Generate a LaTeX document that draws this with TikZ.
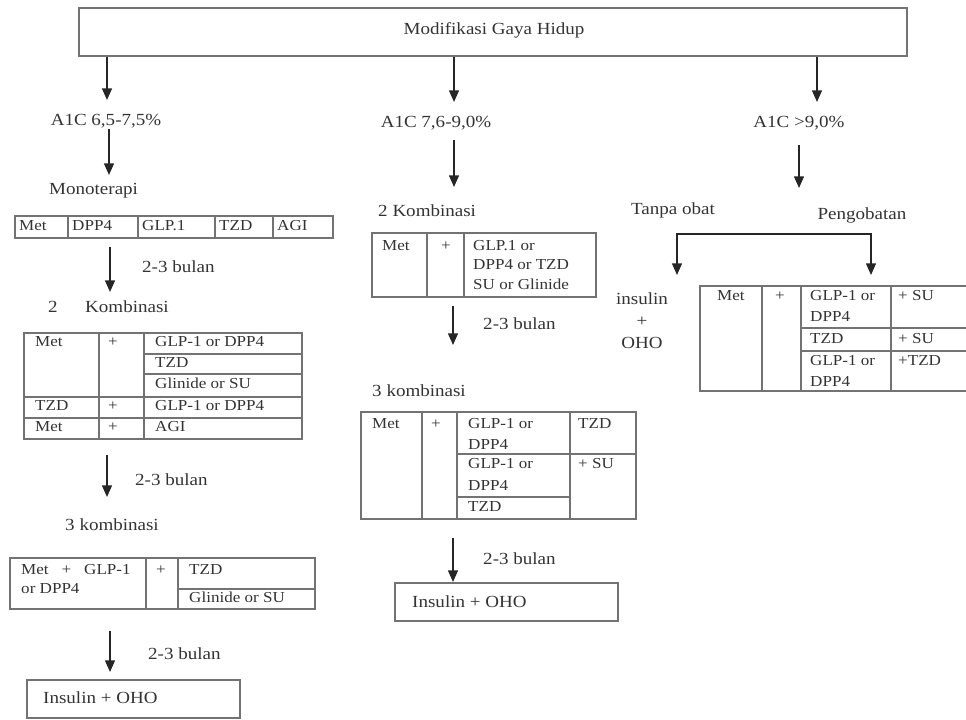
\documentclass[tikz,border=0pt]{standalone}
\usepackage{fontspec}
\setmainfont{Liberation Serif}[FakeStretch=1.12]
\usetikzlibrary{arrows.meta, fit, calc}

\begin{document}
\begin{tikzpicture}[
  x=0.03cm, y=-0.03cm,
  >={Triangle[length=10pt, width=8.5pt]},
  every node/.style={text=black!80},
  lbl/.style={font=\fontsize{14.5}{17}\selectfont, inner sep=0pt, text height=10pt, text depth=3pt},
  cell/.style={font=\fontsize{13}{15}\selectfont, inner sep=0pt, anchor=west, text height=9pt, text depth=3.5pt},
  tbl/.style={draw=black!55, line width=0.9pt, inner sep=0pt},
  rule/.style={draw=black!55, line width=0.9pt},
  arr/.style={->, line width=1.3pt, black!85},
]
  \useasboundingbox (0,0) rectangle (966,720);

  % top box and the three A1C ranges
  \node[tbl, fit={(79,8) (907,56)}] (top) {};
  \node[lbl] (gaya) at (494,30) {Modifikasi Gaya Hidup};
  \node[lbl] (a1) at (106,121) {A1C 6,5-7,5\%};
  \node[lbl] (a2) at (436,123) {A1C 7,6-9,0\%};
  \node[lbl] (a3) at (799,123) {A1C >9,0\%};
  \coordinate (t1) at (107,100);
  \coordinate (t2) at (454,102);
  \coordinate (t3) at (817,102);
  \foreach \t in {t1,t2,t3} \draw[arr] (top.south -| \t) -- (\t);

  % left column
  \node[lbl, anchor=west] (mono) at (49,190) {Monoterapi};
  \coordinate (u1) at (109,175);
  \draw[arr] (a1.south -| u1) -- (u1);
  \node[tbl, fit={(15,216) (333,238)}] (tm) {};
  \foreach \x in {68,138,215,273} \draw[rule] (\x,216) -- (\x,238);
  \foreach \x/\t [count=\i] in {19/Met, 72/DPP4, 142/GLP.1, 219/TZD, 277/AGI}
    \node[cell] (tm\i) at (\x,227) {\t};
  \coordinate (v1) at (110,292);
  \draw[arr, shorten <=7pt] (tm.south -| v1) -- (v1);
  \node[lbl, anchor=west] (b1) at (142,268) {2-3 bulan};
  \node[lbl] (dua) at (53,308) {2};
  \node[lbl, anchor=west] (k2) at (85,308) {Kombinasi};

  \node[tbl, fit={(24,333) (302,439)}] (tk2) {};
  \foreach \x in {99,144} \draw[rule] (\x,333) -- (\x,439);
  \foreach \y in {354,374} \draw[rule] (144,\y) -- (302,\y);
  \foreach \y in {397,418} \draw[rule] (24,\y) -- (302,\y);
  \foreach \x/\y/\t [count=\i] in {35/343/Met, 108/343/+, 155/343/GLP-1 or DPP4,
      155/364/TZD, 155/385/Glinide or SU, 35/407/TZD, 108/407/+,
      155/407/GLP-1 or DPP4, 35/428/Met, 108/428/+, 155/428/AGI}
    \node[cell] (tk2\i) at (\x,\y) {\t};
  \coordinate (v2) at (107,497);
  \draw[arr, shorten <=13pt] (tk2.south -| v2) -- (v2);
  \node[lbl, anchor=west] (b2) at (135,481) {2-3 bulan};
  \node[lbl, anchor=west] (k3) at (65,526) {3 kombinasi};

  \node[tbl, fit={(10,558) (315,609)}] (tk3) {};
  \foreach \x in {146,178} \draw[rule] (\x,558) -- (\x,609);
  \draw[rule] (178,589) -- (315,589);
  \node[cell] (tk31) at (21,571) {Met\hspace{0.85em}+\hspace{0.85em}GLP-1};
  \node[cell] (tk32) at (21,590) {or DPP4};
  \node[cell] (tk33) at (156,571) {+};
  \node[cell] (tk34) at (189,571) {TZD};
  \node[cell] (tk35) at (189,599) {Glinide or SU};
  \coordinate (v3) at (110,672);
  \draw[arr, shorten <=18pt] (tk3.south -| v3) -- (v3);
  \node[lbl, anchor=west] (b3) at (148,655) {2-3 bulan};
  \node[tbl, fit={(27,680) (240,718)}] (fin) {};
  \node[lbl, anchor=west] (fint) at (43,699) {Insulin + OHO};

  % middle column
  \coordinate (u2) at (454,187);
  \draw[arr, shorten <=8pt] (a2.south -| u2) -- (u2);
  \node[lbl, anchor=west] (mk2) at (378,212) {2 Kombinasi};
  \node[tbl, fit={(372,233) (596,297)}] (tmk2) {};
  \foreach \x in {427,464} \draw[rule] (\x,233) -- (\x,297);
  \foreach \x/\y/\t [count=\i] in {382/247/Met, 441/247/+, 473/247/GLP.1 or,
      473/266/DPP4 or TZD, 473/286/SU or Glinide}
    \node[cell] (tmk2\i) at (\x,\y) {\t};
  \coordinate (w1) at (453,345);
  \draw[arr, shorten <=7pt] (tmk2.south -| w1) -- (w1);
  \node[lbl, anchor=west] (b4) at (483,325) {2-3 bulan};
  \node[lbl, anchor=west] (mk3) at (372,392) {3 kombinasi};

  \node[tbl, fit={(361,412) (636,519)}] (tmk3) {};
  \foreach \x in {422,457,570} \draw[rule] (\x,412) -- (\x,519);
  \draw[rule] (457,454) -- (636,454);
  \draw[rule] (457,497) -- (570,497);
  \foreach \x/\y/\t [count=\i] in {372/425/Met, 431/425/+, 468/425/GLP-1 or,
      468/446/DPP4, 578/425/TZD, 468/465/GLP-1 or, 468/487/DPP4,
      578/465/+ SU, 468/508/TZD}
    \node[cell] (tmk3\i) at (\x,\y) {\t};
  \coordinate (w2) at (453,582);
  \draw[arr, shorten <=16pt] (tmk3.south -| w2) -- (w2);
  \node[lbl, anchor=west] (b5) at (483,560) {2-3 bulan};
  \node[tbl, fit={(395,583) (618,621)}] (mfin) {};
  \node[lbl, anchor=west] (mfint) at (412,603) {Insulin + OHO};

  % right column
  \coordinate (u3) at (799,188);
  \draw[arr, shorten <=12pt] (a3.south -| u3) -- (u3);
  \node[lbl] (tanpa) at (673,210) {Tanpa obat};
  \node[lbl] (obat) at (862,215) {Pengobatan};
  \coordinate (brL) at (677,275);
  \coordinate (brR) at (871,275);
  \coordinate (brT) at (774,234);
  \draw[arr, <->] (brL) |- (brT) -| (brR);
  \node[font=\fontsize{14.5}{18.8}\selectfont, align=center, inner sep=0pt]
    (ins) at (642,321) {insulin\\+\\OHO};

  \draw[rule] (968,286) -- (700,286) -- (700,391) -- (968,391);
  \foreach \x in {762,801,891} \draw[rule] (\x,286) -- (\x,391);
  \foreach \y in {328,351} \draw[rule] (801,\y) -- (968,\y);
  \foreach \x/\y/\t [count=\i] in {717/297/Met, 775/297/+, 810/297/GLP-1 or,
      810/318/DPP4, 898/297/+ SU, 810/340/TZD, 898/340/+ SU,
      810/362/GLP-1 or, 810/383/DPP4, 898/362/+TZD}
    \node[cell] (tr\i) at (\x,\y) {\t};
\end{tikzpicture}
\end{document}
